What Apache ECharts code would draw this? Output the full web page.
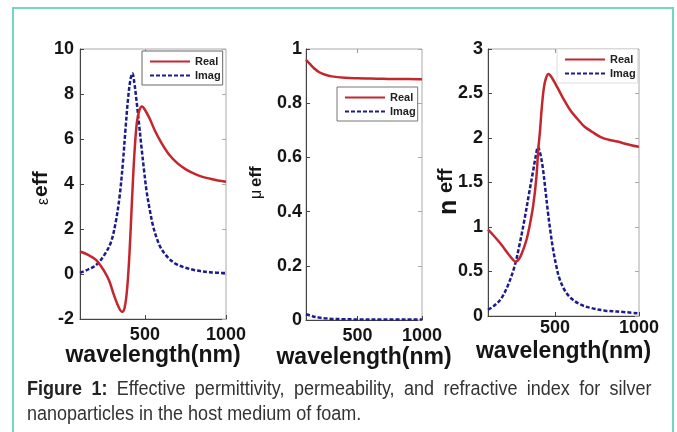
<!DOCTYPE html>
<html>
<head>
<meta charset="utf-8">
<script src="https://cdn.jsdelivr.net/npm/echarts@6/dist/echarts.min.js"></script>
<style>
  html, body { margin: 0; padding: 0; background: #fff; }
  #wrap { position: relative; width: 677px; height: 432px; overflow: hidden; }
  #chart { position: absolute; left: 0; top: 0; width: 677px; height: 432px; }
  #caption {
    position: absolute; left: 27px; top: 376px; width: 694px;
    transform: scaleX(0.9); transform-origin: 0 0;
    font-family: "Liberation Sans", Arial, sans-serif;
    font-size: 20px; line-height: 25px; color: #333;
  }
  #caption .l1 { text-align: justify; text-align-last: justify; white-space: nowrap; }
  #caption .l2 { text-align: left; white-space: nowrap; }
  #caption b { color: #222; }
</style>
</head>
<body>
<div id="wrap">
  <div id="chart"></div>
  <div id="caption">
    <div class="l1"><b>Figure 1:</b> Effective permittivity, permeability, and refractive index for silver</div>
    <div class="l2">nanoparticles in the host medium of foam.</div>
  </div>
</div>
<script>
// Effective permittivity (epsilon_eff)
const epsRealWl  = [100,150,200,250,280,310,340,360,375,390,405,420,435,450,465,482,500,530,560,600,650,700,750,800,850,900,950,1000];
const epsRealVal = [1.0,0.85,0.62,0.12,-0.3,-0.95,-1.5,-1.68,-1.5,-0.7,0.9,3.2,5.3,6.7,7.25,7.44,7.3,6.9,6.4,5.85,5.3,4.93,4.66,4.47,4.33,4.24,4.16,4.1];
const epsImagWl  = [100,150,200,250,290,320,345,365,380,395,410,423,435,450,465,478,495,510,530,550,575,600,640,690,750,810,900,1000];
const epsImagVal = [0.05,0.2,0.4,0.85,1.4,2.3,3.5,5.0,6.4,7.7,8.6,8.92,8.5,7.6,6.6,5.7,4.6,3.7,2.85,2.15,1.55,1.14,0.75,0.45,0.28,0.17,0.08,0.04];

// Effective permeability (mu_eff)
const muRealWl  = [100,130,160,200,250,300,400,500,600,700,800,900,1000];
const muRealVal = [0.96,0.945,0.93,0.915,0.905,0.899,0.894,0.892,0.891,0.89,0.889,0.889,0.888];
const muImagWl  = [100,150,200,250,300,400,500,700,1000];
const muImagVal = [0.021,0.014,0.009,0.006,0.004,0.003,0.002,0.002,0.002];

// Effective refractive index (n_eff)
const nRealWl  = [100,140,180,220,250,265,285,305,330,350,370,388,400,410,420,432,445,461,480,516,550,595,640,674,720,772,820,871,930,1000];
const nRealVal = [0.97,0.89,0.80,0.70,0.63,0.61,0.64,0.72,0.86,1.03,1.25,1.55,1.88,2.08,2.33,2.55,2.67,2.72,2.68,2.56,2.44,2.30,2.20,2.13,2.07,2.01,1.98,1.96,1.93,1.90];
const nImagWl  = [100,140,180,220,260,290,319,345,368,385,398,412,427,442,457,472,487,505,526,560,595,650,714,800,871,1000];
const nImagVal = [0.07,0.12,0.20,0.35,0.57,0.82,1.10,1.38,1.62,1.80,1.90,1.82,1.66,1.42,1.17,0.95,0.76,0.58,0.42,0.28,0.20,0.13,0.09,0.06,0.05,0.03];

const xTicks = [500, 1000];
const legendNames = ['Real', 'Imag'];

const zip = (xs, ys) => xs.map((x, i) => [x, ys[i]]);

const RED = '#c4262e';
const BLUE = '#1c1c8c';
const FONT = '"Liberation Sans", Arial, sans-serif';

const grids = [
  { left: 80,  top: 49, width: 146, height: 270 },
  { left: 306, top: 49, width: 116, height: 271 },
  { left: 488, top: 49, width: 151, height: 267 }
];
const yRanges = [
  { min: -2, max: 10, interval: 2 },
  { min: 0,  max: 1,  interval: 0.2 },
  { min: 0,  max: 3,  interval: 0.5 }
];
const xLabelMargin = [7, 7, 3];
const xNameGap = [25, 26, 24];
const yLabelMargin = [6, 4, 5];

const xAxes = [], yAxes = [];
grids.forEach((g, i) => {
  xAxes.push({
    gridIndex: i, type: 'value', min: 100, max: 1000,
    name: 'wavelength(nm)', nameLocation: 'middle', nameGap: xNameGap[i], nameMoveOverlap: false,
    nameTextStyle: { fontFamily: FONT, fontWeight: 'bold', fontSize: 23, color: '#151515' },
    axisLine: { show: true, onZero: false, lineStyle: { color: '#444', width: 1 } },
    axisTick: { show: true, inside: true, length: 4, customValues: xTicks, lineStyle: { color: '#444' } },
    axisLabel: { customValues: xTicks, formatter: v => String(v), margin: xLabelMargin[i], fontFamily: FONT, fontWeight: 'bold', fontSize: 18, color: '#151515' },
    splitLine: { show: false }
  });
  xAxes.push({
    gridIndex: i, type: 'value', min: 100, max: 1000, position: 'top',
    axisLine: { show: false, onZero: false },
    axisTick: { show: true, inside: true, length: 4, customValues: [500], lineStyle: { color: '#999' } },
    axisLabel: { show: false }, splitLine: { show: false }
  });
  yAxes.push({
    gridIndex: i, type: 'value', min: yRanges[i].min, max: yRanges[i].max, interval: yRanges[i].interval,
    axisLine: { show: true, onZero: false, lineStyle: { color: '#444', width: 1 } },
    axisTick: { show: true, inside: true, length: 4, lineStyle: { color: '#444' } },
    axisLabel: { margin: yLabelMargin[i], fontFamily: FONT, fontWeight: 'bold', fontSize: 18, color: '#151515' },
    splitLine: { show: false }
  });
  yAxes.push({
    gridIndex: i, type: 'value', min: yRanges[i].min, max: yRanges[i].max, interval: yRanges[i].interval, position: 'right',
    axisLine: { show: false, onZero: false },
    axisTick: { show: true, inside: true, length: 4, lineStyle: { color: '#aaa' } },
    axisLabel: { show: false }, splitLine: { show: false }
  });
});

function lineSeries(name, id, gridIdx, data, dashed) {
  return {
    name: name, id: id, type: 'line',
    xAxisIndex: gridIdx * 2, yAxisIndex: gridIdx * 2,
    data: data, showSymbol: false, symbol: 'none', smooth: 0.35,
    lineStyle: dashed
      ? { color: BLUE, width: 2.5, type: [4, 2] }
      : { color: RED, width: 2.5 },
    itemStyle: { color: dashed ? BLUE : RED },
    z: dashed ? 3 : 4,
    animation: false
  };
}

const series = [
  lineSeries(legendNames[0], 'epsR', 0, zip(epsRealWl, epsRealVal), false),
  lineSeries(legendNames[1], 'epsI', 0, zip(epsImagWl, epsImagVal), true),
  lineSeries(legendNames[0], 'muR', 1, zip(muRealWl, muRealVal), false),
  lineSeries(legendNames[1], 'muI', 1, zip(muImagWl, muImagVal), true),
  lineSeries(legendNames[0], 'nR', 2, zip(nRealWl, nRealVal), false),
  lineSeries(legendNames[1], 'nI', 2, zip(nImagWl, nImagVal), true)
];

function legendBox(left, top, borderColor) {
  return {
    orient: 'vertical', left: left, top: top,
    data: legendNames, selectedMode: false,
    itemWidth: 40, itemHeight: 10, itemGap: 1,
    padding: [4, 2, 3, 7],
    backgroundColor: '#fff', borderColor: borderColor, borderWidth: 1,
    itemStyle: { opacity: 0, borderWidth: 0 },
    textStyle: { fontFamily: FONT, fontWeight: 'bold', fontSize: 11, color: '#222', lineHeight: 13 }
  };
}

// axis titles drawn as rotated text with a subscript part
function rotText(x, y, text, size, weight) {
  return {
    type: 'text', x: x, y: y, rotation: Math.PI / 2, z: 10,
    style: { text: text, fontFamily: FONT, fontSize: size, fontWeight: weight, fill: '#151515', align: 'left', verticalAlign: 'middle' }
  };
}

const option = {
  animation: false,
  grid: grids.map(g => Object.assign({ show: true, borderColor: '#aaa', borderWidth: 1, backgroundColor: 'transparent' }, g)),
  xAxis: xAxes,
  yAxis: yAxes,
  legend: [legendBox(142, 51, '#666'), legendBox(337, 87, '#777'), legendBox(557, 49, '#ddd')],
  series: series,
  graphic: [
    { type: 'rect', shape: { x: 13, y: 8, width: 660, height: 450 }, style: { fill: 'none', stroke: '#72d6c7', lineWidth: 2 }, z: 0 },
    rotText(44, 205, 'ε', 16, 'normal'),
    rotText(41, 197, 'eff', 21, 'bold'),
    rotText(257, 199, 'μ', 16, 'normal'),
    rotText(256, 187, 'eff', 17, 'bold'),
    rotText(449, 215, 'n', 25, 'bold'),
    rotText(446, 193, 'eff', 20, 'bold')
  ]
};

const chart = echarts.init(document.getElementById('chart'), null, { renderer: 'canvas' });
chart.setOption(option);
</script>
</body>
</html>
